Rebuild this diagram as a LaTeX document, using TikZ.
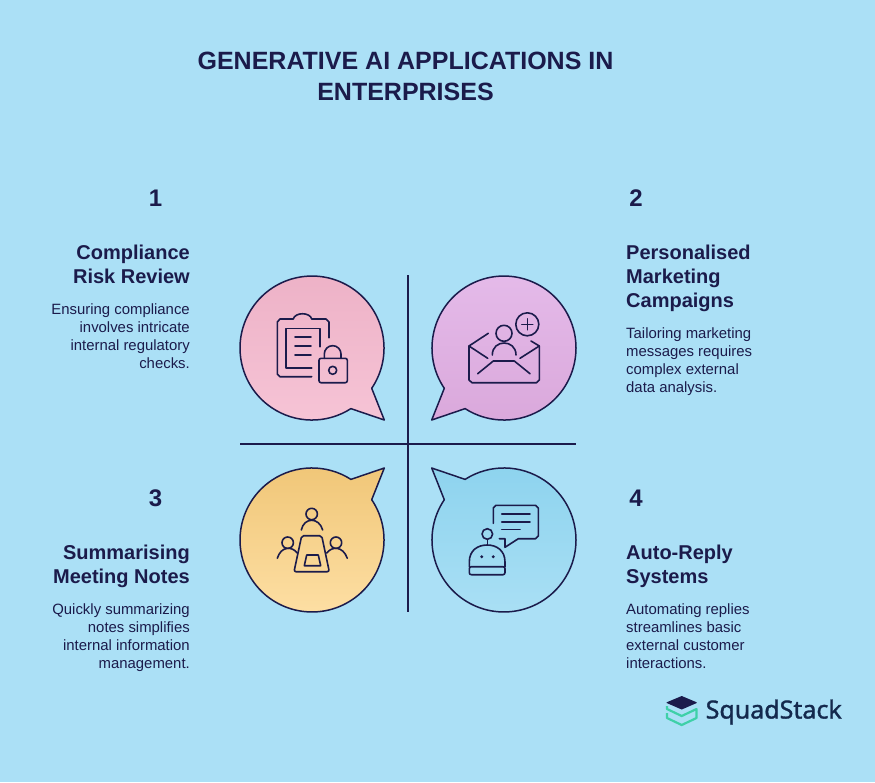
\documentclass[tikz,border=0pt]{standalone}
\usepackage{fontspec}
\setmainfont{Liberation Sans}
\newfontfamily\brandfont[FakeBold=1.3]{Noto Sans}
\usepackage{xcolor}
\usetikzlibrary{positioning}
\definecolor{skybg}{HTML}{ABE0F6}
\definecolor{navy}{HTML}{1B1B4B}
\definecolor{brandnavy}{HTML}{14294D}
\definecolor{mint}{HTML}{3FD0A8}
\definecolor{pinktop}{HTML}{EDB1C6}
\definecolor{pinkbot}{HTML}{F6C4D6}
\definecolor{lilactop}{HTML}{E5BBEA}
\definecolor{lilacbot}{HTML}{DAA8DB}
\definecolor{sandtop}{HTML}{F0C677}
\definecolor{sandbot}{HTML}{FEE0A6}
\definecolor{bluetop}{HTML}{8DD3EE}
\definecolor{bluebot}{HTML}{ABE0F5}
\tikzset{
  icon/.style={draw=navy, line width=1.6pt, line cap=round, line join=round},
  divider/.style={draw=navy, line width=2pt},
  numlabel/.style={font=\bfseries\fontsize{24}{28}\selectfont, text=navy, inner sep=0pt},
  headleft/.style={font=\bfseries\fontsize{20}{24}\selectfont, text=navy, inner sep=0pt, align=right, anchor=north east},
  headright/.style={font=\bfseries\fontsize{20}{24}\selectfont, text=navy, inner sep=0pt, align=left, anchor=north west},
  bodyleft/.style={font=\fontsize{14.9}{18}\selectfont, text=navy, inner sep=0pt, align=right, anchor=north east},
  bodyright/.style={font=\fontsize{14.9}{18}\selectfont, text=navy, inner sep=0pt, align=left, anchor=north west},
}
\newcommand{\speechbubble}[6]{
  \begin{scope}[shift={(#1,#2)}, xscale=#3, yscale=#4]
    \draw[draw=navy, line width=1.5pt, line join=round, top color=#5, bottom color=#6]
      (59.7,40.3) arc[start angle=-34, end angle=302.7, radius=72pt] -- (72.3,72) -- cycle;
  \end{scope}
}
\begin{document}
\begin{tikzpicture}[x=1pt, y=-1pt]
\fill[skybg] (0,0) rectangle (875,782);
\useasboundingbox (0,0) rectangle (875,782);

% Title
\node[font=\bfseries\fontsize{25}{30.5}\selectfont, text=navy, align=center, inner sep=0pt] (title) at (405.5,76.5) {GENERATIVE AI APPLICATIONS IN\\ENTERPRISES};

% Bubbles
\speechbubble{312}{348}{1}{1}{pinktop}{pinkbot}
\speechbubble{504}{348}{-1}{1}{lilactop}{lilacbot}
\speechbubble{312}{540}{1}{-1}{sandtop}{sandbot}
\speechbubble{504}{540}{-1}{-1}{bluetop}{bluebot}

% Cross
\draw[divider] (408,275) -- (408,612);
\draw[divider] (240,444) -- (576,444);

% Left column
\node[numlabel] (numA) at (155.5,198) {1};
\node[headleft] (headA) at (190,245) {Compliance\\Risk Review};
\node[bodyleft] (bodyA) at (190,303) {Ensuring compliance\\involves intricate\\internal regulatory\\checks.};
\node[numlabel] (numC) at (155.5,498) {3};
\node[headleft] (headC) at (190,545) {Summarising\\Meeting Notes};
\node[bodyleft] (bodyC) at (190,603) {Quickly summarizing\\notes simplifies\\internal information\\management.};

% Right column
\node[numlabel] (numB) at (636,198) {2};
\node[headright] (headB) at (626,245) {Personalised\\Marketing\\Campaigns};
\node[bodyright] (bodyB) at (626,327) {Tailoring marketing\\messages requires\\complex external\\data analysis.};
\node[numlabel] (numD) at (636,498) {4};
\node[headright] (headD) at (626,545) {Auto-Reply\\Systems};
\node[bodyright] (bodyD) at (626,603) {Automating replies\\streamlines basic\\external customer\\interactions.};

% Clipboard and lock
\draw[icon] (311.7,376.7) -- (280,376.7) -- (277.3,374) -- (277.3,322) -- (280,319) -- (293.3,319)
  .. controls (295,312) and (310,312) .. (311.7,319) -- (326,319) -- (329,322) -- (329,337.7);
\draw[icon] (320,346.7) -- (320,328.3) -- (286,328.3) -- (286,367.7) -- (311.7,367.7);
\draw[icon] (295,336.7) -- (311,336.7);
\draw[icon] (295,346) -- (311,346);
\draw[icon] (295,355) -- (311,355);
\draw[icon, rounded corners=2pt] (319,358.3) rectangle (347.3,382.7);
\draw[icon] (324.3,358.3) -- (324.3,354) arc[start angle=180, end angle=0, radius=8.35pt] -- (341,358.3);
\draw[icon] (332.7,370.3) circle (4pt);

% Envelope with person
\draw[icon] (488.3,333.3) -- (469,346) -- (469,380) -- (472,382.7) -- (536.5,382.7) -- (539.3,380) -- (539.3,346) -- (531,341);
\draw[icon] (469,346) -- (487.7,358.3);
\draw[icon] (539.3,346) -- (520,358.3);
\draw[icon] (477.7,373.7) -- (493.3,361) -- (514.3,361) -- (530,373.7);
\draw[icon] (504,333.3) circle (8pt);
\draw[icon] (492.3,355) .. controls (492.3,339) and (516,339) .. (516,355);
\draw[icon] (527.3,324.3) circle (11.5pt);
\draw[icon] (521.8,324.3) -- (532.8,324.3);
\draw[icon] (527.3,318.8) -- (527.3,329.8);

% Meeting table
\draw[icon] (311.7,514) circle (5.7pt);
\draw[icon] (301.3,530) .. controls (304,517) and (319,517) .. (322.7,530);
\draw[icon] (287.7,542.7) circle (5.7pt);
\draw[icon] (277.3,558.3) .. controls (281,546) and (292,546) .. (297.3,553);
\draw[icon] (336,542.7) circle (5.7pt);
\draw[icon] (347.3,558.3) .. controls (343,546) and (332,546) .. (326.7,553);
\draw[icon, rounded corners=2pt] (301.7,535.7) -- (321.7,535.7) -- (329.3,571.7) -- (294,571.7) -- cycle;
\draw[icon] (306.7,555) -- (318.3,555) -- (320.7,565.7) -- (304.3,565.7) -- cycle;

% Robot and chat
\draw[icon] (493.3,523.3) -- (493.3,508) -- (496,505.3) -- (535.5,505.3) -- (538.3,508) -- (538.3,536) -- (535.5,538.7) -- (518.3,538.7) -- (505,547.3) -- (505,538.7) -- (499.3,538.7);
\draw[icon] (501.7,514) -- (530,514);
\draw[icon] (501.7,521.7) -- (530,521.7);
\draw[icon] (501.7,529.3) -- (520,529.3);
\draw[icon] (487.3,534) circle (5.3pt);
\draw[icon] (487.3,539.3) -- (487.3,545);
\draw[icon] (469.3,566.7) -- (469.3,562) .. controls (469.3,550) and (478,545) .. (487.3,545)
  .. controls (496,545) and (505,550) .. (505,562) -- (505,566.7);
\draw[icon, rounded corners=2pt] (469.3,566.7) rectangle (505,574.7);
\fill[navy] (481.7,556.7) circle (1.6pt);
\fill[navy] (493.3,556.7) circle (1.6pt);

% Logo
\draw[mint, line width=2.2pt, line join=round] (667,706) -- (667,709) -- (681.7,716) -- (696.5,709) -- (696.5,718) -- (681.7,725) -- (667,718) -- (667,713);
\fill[navy] (666.7,702.3) -- (681.7,696) -- (696.7,702.3) -- (696.7,703) -- (681.7,709.5) -- (666.7,703) -- cycle;
\node[font=\brandfont\fontsize{25}{30}\selectfont, text=brandnavy, anchor=west, inner sep=0pt] (brand) at (705.5,712) {SquadStack};
\end{tikzpicture}
\end{document}
